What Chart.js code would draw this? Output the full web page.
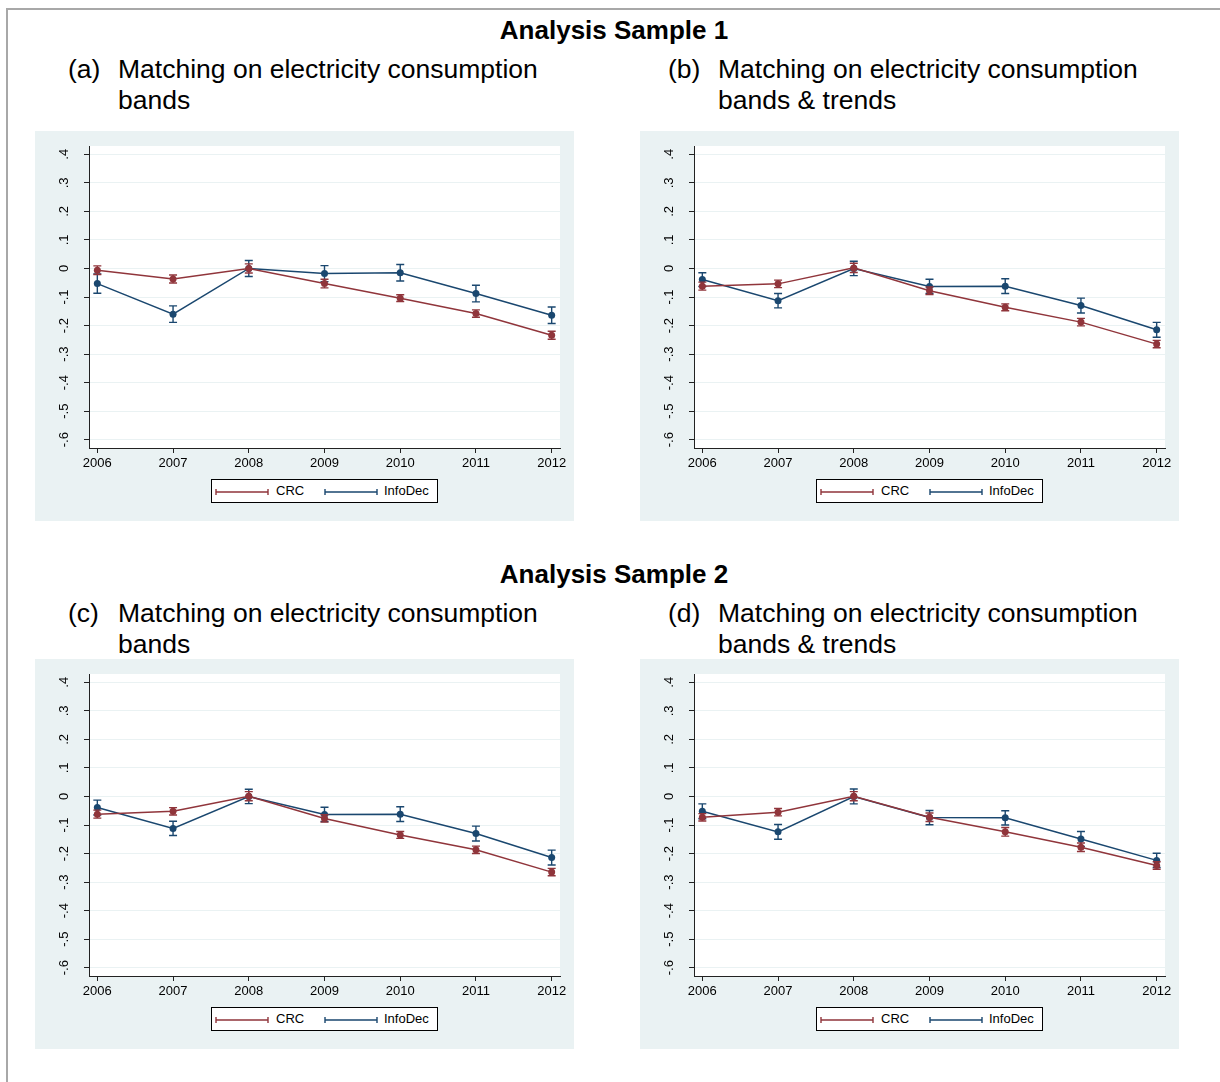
<!DOCTYPE html>
<html>
<head>
<meta charset="utf-8">
<script src="https://cdn.jsdelivr.net/npm/chart.js@4"></script>
<style>
  body { margin: 0; background: #fff; font-family: "Liberation Sans", Arial, sans-serif; }
  #page { position: relative; width: 1220px; height: 1082px; overflow: hidden; }
  .frame { position: absolute; left: 6px; top: 8px; width: 1230px; height: 1100px;
           border-top: 2px solid #a8a8a8; border-left: 2px solid #a8a8a8; }
  .title { position: absolute; left: 414px; width: 400px; text-align: center;
           font-weight: bold; font-size: 26px; line-height: 30px; color: #000; }
  .sub { position: absolute; font-size: 26.5px; line-height: 31px; color: #000; white-space: nowrap; }
  .sub .lab { position: absolute; left: 0; top: 0; }
  .sub .txt { position: absolute; left: 50px; top: 0; }
  .panel { position: absolute; width: 539px; height: 390px; background: #eaf2f3; }
  .panel canvas { position: absolute; left: 0; top: 0; }
  .legend { position: absolute; left: 176px; top: 348px; width: 225px; height: 22px;
            border: 1px solid #000; background: #fff; font-size: 13px; }
  .legend svg { position: absolute; top: 6px; }
  .legend .t { position: absolute; top: 3px; line-height: 16px; color: #000; }
</style>
</head>
<body>
<div id="page">
  <div class="frame"></div>

  <div class="title" style="top:15px">Analysis Sample 1</div>
  <div class="sub" style="left:68px; top:54px"><span class="lab">(a)</span><span class="txt">Matching on electricity consumption<br>bands</span></div>
  <div class="sub" style="left:668px; top:54px"><span class="lab">(b)</span><span class="txt">Matching on electricity consumption<br>bands &amp; trends</span></div>

  <div class="title" style="top:559px">Analysis Sample 2</div>
  <div class="sub" style="left:68px; top:598px"><span class="lab">(c)</span><span class="txt">Matching on electricity consumption<br>bands</span></div>
  <div class="sub" style="left:668px; top:598px"><span class="lab">(d)</span><span class="txt">Matching on electricity consumption<br>bands &amp; trends</span></div>

  <div class="panel" style="left:35px; top:131px"><canvas id="pa" width="539" height="390"></canvas></div>
  <div class="panel" style="left:640px; top:131px"><canvas id="pb" width="539" height="390"></canvas></div>
  <div class="panel" style="left:35px; top:659px"><canvas id="pc" width="539" height="390"></canvas></div>
  <div class="panel" style="left:640px; top:659px"><canvas id="pd" width="539" height="390"></canvas></div>
</div>

<script>
const years = [2006, 2007, 2008, 2009, 2010, 2011, 2012];
const yTicks = [-0.6, -0.5, -0.4, -0.3, -0.2, -0.1, 0, 0.1, 0.2, 0.3, 0.4];
const yTickLabels = ["-.6", "-.5", "-.4", "-.3", "-.2", "-.1", "0", ".1", ".2", ".3", ".4"];
const seriesNames = ["CRC", "InfoDec"];

// (a) sample 1, bands
const crcA = [-0.006, -0.037, 0.000, -0.053, -0.104, -0.158, -0.234];
const crcAErr = [0.015, 0.014, 0.016, 0.015, 0.012, 0.013, 0.014];
const infoA = [-0.053, -0.160, 0.000, -0.018, -0.015, -0.088, -0.164];
const infoAErr = [0.034, 0.029, 0.028, 0.028, 0.029, 0.029, 0.029];

// (b) sample 1, bands & trends
const crcB = [-0.062, -0.054, 0.002, -0.078, -0.136, -0.188, -0.265];
const crcBErr = [0.014, 0.013, 0.016, 0.013, 0.012, 0.013, 0.013];
const infoB = [-0.039, -0.113, 0.000, -0.063, -0.062, -0.130, -0.215];
const infoBErr = [0.024, 0.025, 0.025, 0.025, 0.026, 0.026, 0.026];

// (c) sample 2, bands
const crcC = [-0.062, -0.052, 0.001, -0.077, -0.135, -0.187, -0.265];
const crcCErr = [0.014, 0.013, 0.016, 0.013, 0.012, 0.013, 0.013];
const infoC = [-0.039, -0.112, 0.000, -0.063, -0.062, -0.130, -0.214];
const infoCErr = [0.026, 0.025, 0.025, 0.025, 0.026, 0.026, 0.026];

// (d) sample 2, bands & trends
const crcD = [-0.073, -0.055, 0.001, -0.073, -0.124, -0.178, -0.242];
const crcDErr = [0.013, 0.013, 0.016, 0.015, 0.015, 0.015, 0.013];
const infoD = [-0.052, -0.124, 0.000, -0.074, -0.075, -0.149, -0.224];
const infoDErr = [0.026, 0.026, 0.026, 0.025, 0.025, 0.026, 0.025];

const RED = "#90353b";
const BLUE = "#1a476f";
const AXIS = "#222";

const plotBg = {
  id: "plotBg",
  beforeDraw(chart) {
    const a = chart.chartArea, ctx = chart.ctx;
    ctx.save();
    ctx.fillStyle = "#fff";
    ctx.fillRect(a.left, a.top, a.right - a.left, a.bottom - a.top);
    ctx.restore();
  }
};

// range caps drawn under each series
const errorBars = {
  id: "errorBars",
  beforeDatasetDraw(chart, args) {
    const ds = chart.data.datasets[args.index];
    const xs = chart.scales.x, ys = chart.scales.y, ctx = chart.ctx;
    ctx.save();
    ctx.strokeStyle = ds.borderColor;
    ctx.lineWidth = 1.4;
    ds.data.forEach((p, i) => {
      const e = ds.err[i];
      const x = xs.getPixelForValue(p.x);
      const y1 = ys.getPixelForValue(p.y - e);
      const y2 = ys.getPixelForValue(p.y + e);
      ctx.beginPath();
      ctx.moveTo(x, y1); ctx.lineTo(x, y2);
      ctx.moveTo(x - 4, y1); ctx.lineTo(x + 4, y1);
      ctx.moveTo(x - 4, y2); ctx.lineTo(x + 4, y2);
      ctx.stroke();
    });
    ctx.restore();
  }
};

function series(label, vals, err, color) {
  return {
    label: label,
    data: years.map((y, i) => ({ x: y, y: vals[i] })),
    err: err,
    borderColor: color,
    backgroundColor: color,
    borderWidth: 1.5,
    pointRadius: 3.5,
    pointBorderWidth: 0,
    pointBackgroundColor: color,
    tension: 0
  };
}

function keyLine(color, left) {
  return `<svg width="56" height="12" style="left:${left}px">` +
    `<path d="M2 6H54M2 3V9M54 3V9" stroke="${color}" stroke-width="1.4" fill="none"/></svg>`;
}

function addLegend(canvas) {
  const box = document.createElement("div");
  box.className = "legend";
  box.innerHTML =
    keyLine(RED, 2) + `<div class="t" style="left:64px">${seriesNames[0]}</div>` +
    keyLine(BLUE, 111) + `<div class="t" style="left:172px">${seriesNames[1]}</div>`;
  canvas.parentNode.appendChild(box);
}

function makePanel(id, crc, crcErr, info, infoErr) {
  const canvas = document.getElementById(id);
  new Chart(canvas, {
    type: "line",
    data: {
      datasets: [
        series(seriesNames[0], crc, crcErr, RED),
        series(seriesNames[1], info, infoErr, BLUE)
      ]
    },
    options: {
      responsive: false,
      animation: false,
      devicePixelRatio: 1,
      events: [],
      layout: { padding: { top: 15, right: 14, left: 0, bottom: 0 } },
      plugins: { legend: { display: false }, tooltip: { enabled: false } },
      scales: {
        x: {
          type: "linear",
          min: 2005.89,
          max: 2012.11,
          afterBuildTicks: s => { s.ticks = years.map(v => ({ value: v })); },
          afterFit: s => { s.height = 73; s.paddingLeft = 0; s.paddingRight = 0; },
          ticks: {
            callback: v => String(v),
            color: "#000",
            font: { family: "Liberation Sans, Arial", size: 13 },
            padding: 3,
            maxRotation: 0,
            autoSkip: false
          },
          grid: { drawOnChartArea: false, tickLength: 5, tickColor: AXIS, tickWidth: 1 },
          border: { color: AXIS, width: 1 }
        },
        y: {
          min: -0.629,
          max: 0.429,
          afterBuildTicks: s => { s.ticks = yTicks.map(v => ({ value: v })); },
          afterFit: s => { s.width = 54; s.paddingTop = 0; s.paddingBottom = 0; },
          ticks: {
            callback: (v, i) => yTickLabels[i],
            color: "#000",
            font: { family: "Liberation Sans, Arial", size: 13 },
            minRotation: 90,
            maxRotation: 90,
            crossAlign: "center",
            padding: 12,
            autoSkip: false
          },
          grid: { color: "#eaf2f3", lineWidth: 1, tickLength: 5, tickColor: AXIS, tickWidth: 1 },
          border: { color: AXIS, width: 1 }
        }
      }
    },
    plugins: [plotBg, errorBars]
  });
  addLegend(canvas);
}

makePanel("pa", crcA, crcAErr, infoA, infoAErr);
makePanel("pb", crcB, crcBErr, infoB, infoBErr);
makePanel("pc", crcC, crcCErr, infoC, infoCErr);
makePanel("pd", crcD, crcDErr, infoD, infoDErr);
</script>
</body>
</html>
